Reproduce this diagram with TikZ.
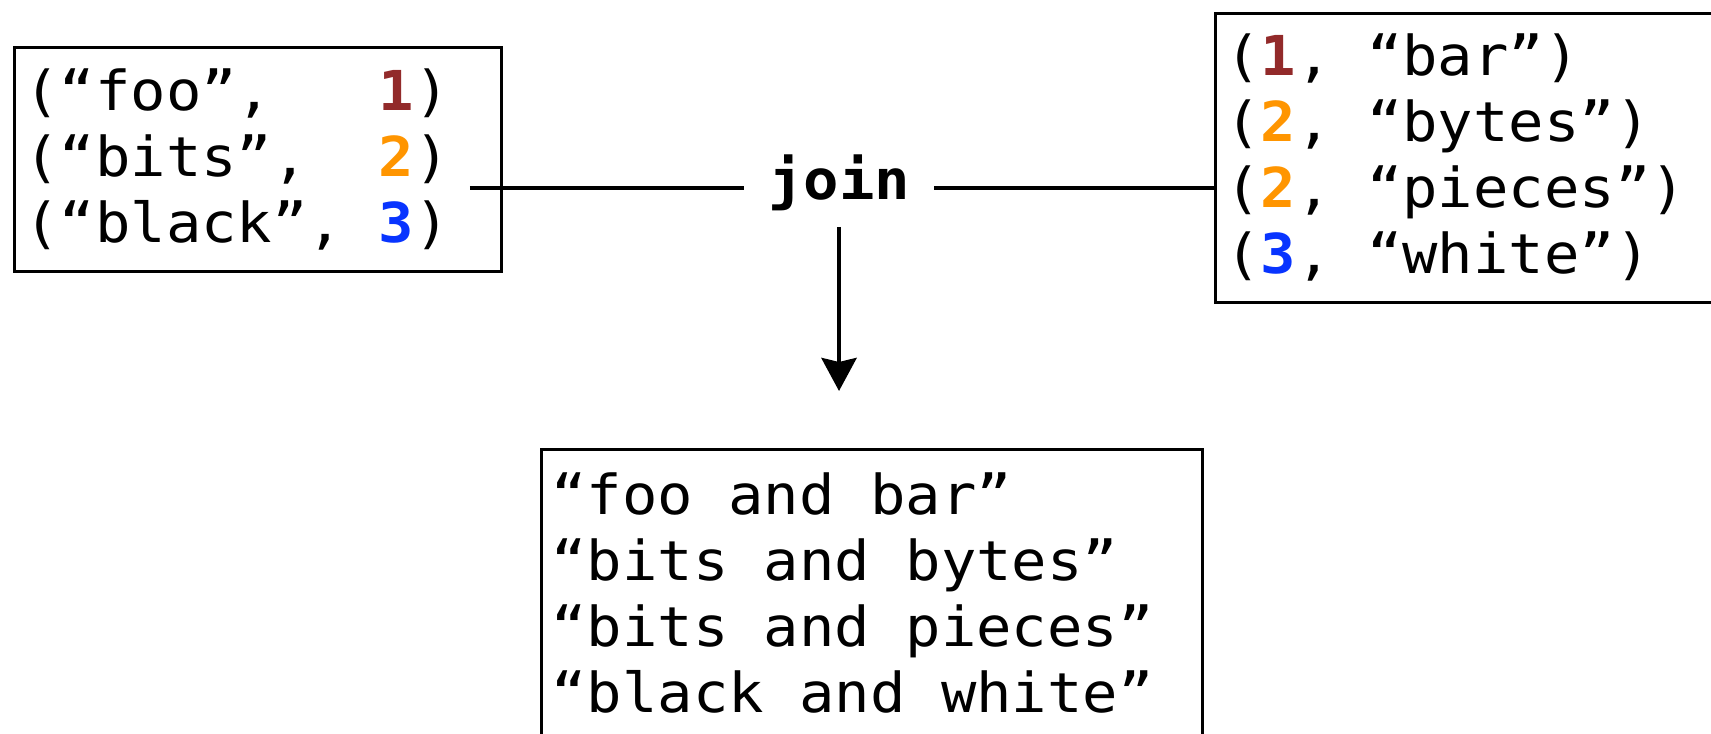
\documentclass[tikz,border=0pt]{standalone}
\usepackage{fontspec}
\setmonofont[FakeStretch=1.07]{DejaVu Sans Mono}
\usetikzlibrary{arrows.meta}
\definecolor{keyone}{RGB}{146,42,42}
\definecolor{keytwo}{RGB}{255,149,0}
\definecolor{keythree}{RGB}{8,52,255}
\newcommand{\kone}{\textcolor{keyone}{\textbf{1}}}
\newcommand{\ktwo}{\textcolor{keytwo}{\textbf{2}}}
\newcommand{\kthree}{\textcolor{keythree}{\textbf{3}}}
% every space one full character cell wide
\newcommand{\monospaces}{\frenchspacing\spaceskip=\fontcharwd\font`x\relax\xspaceskip=\spaceskip}
\begin{document}
\begin{tikzpicture}[x=0.5pt,y=-0.5pt,
  code/.style={font=\ttfamily\fontsize{27.5}{33}\selectfont,
    execute at begin node=\monospaces},
  tuplebox/.style={code, draw, line width=1.4pt, anchor=north west,
    align=left, inner xsep=5pt, inner ysep=0pt},
  link/.style={line width=2.3pt},
  flow/.style={link, -{Stealth[length=16.5pt, width=17.5pt, inset=2pt]}}]
\useasboundingbox (0,0) rectangle (1711,733);

% input relations
\node[tuplebox, minimum width=243.5pt, minimum height=112pt, text width=233.5pt]
  (lbox) at (13,46)
  {(“foo”,\ \ \ \kone)\\(“bits”,\ \ \ktwo)\\(“black”,\ \kthree)};
\node[tuplebox, minimum width=258pt, minimum height=144.5pt, text width=248pt]
  (rbox) at (1214,12)
  {(\kone, “bar”)\\(\ktwo, “bytes”)\\(\ktwo, “pieces”)\\(\kthree, “white”)};

% join operator
\node[font=\ttfamily\bfseries\fontsize{27.5}{33}\selectfont,
  anchor=base, inner xsep=12pt, inner ysep=8pt] (join) at (839,199) {join};
\coordinate (jl) at ([yshift=-2.75pt]join.west);
\coordinate (jr) at ([yshift=-2.75pt]join.east);

% joined result
\node[tuplebox, minimum width=330.5pt, minimum height=144pt, text width=320.5pt]
  (obox) at (540,448)
  {“foo and bar”\\“bits and bytes”\\“bits and pieces”\\“black and white”};

% connectors
\path (jl -| lbox.east) ++(-33,0) coordinate (lstart);
\draw[link] (lstart) -- (jl);
\draw[link] (jr) -- (jr -| rbox.west);
\draw[flow, shorten >=28.5pt] (join.south) -- (join.south |- obox.north);
\end{tikzpicture}
\end{document}
